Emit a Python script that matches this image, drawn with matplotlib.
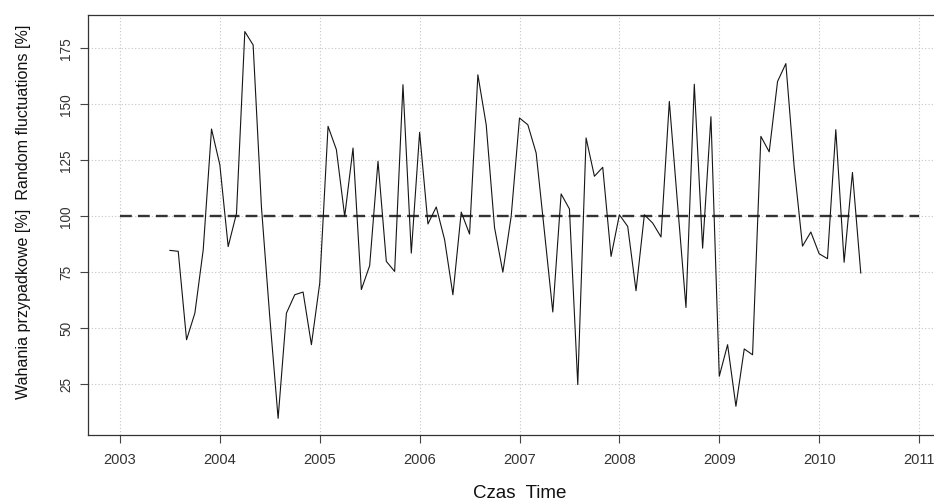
import numpy as np
import matplotlib
matplotlib.use("Agg")
import matplotlib.pyplot as plt
from matplotlib import font_manager

plt.rcParams['font.family'] = ['Liberation Sans', 'DejaVu Sans']

# monthly series, starting July 2003
start_year = 2003
start_month = 7
values = [84.8, 84.4, 44.9, 56.8, 85.0, 139.0, 123.0, 86.5, 101.3, 182.5,
          176.5, 104.0, 55.0, 9.8, 56.8, 65.0, 66.2, 42.7, 70.2, 140.2,
          129.8, 100.0, 130.5, 67.3, 78.0, 124.6, 79.9, 75.4, 158.8, 83.6,
          137.5, 96.6, 104.2, 89.6, 65.0, 101.9, 92.1, 163.2, 140.9, 95.0,
          75.1, 100.0, 143.9, 140.9, 128.3, 93.0, 57.3, 110.0, 103.3, 24.9,
          135.0, 117.9, 121.9, 82.1, 100.7, 95.5, 66.8, 100.7, 97.0, 90.8,
          151.3, 105.0, 59.3, 159.0, 85.8, 144.5, 28.6, 42.7, 15.2, 40.8,
          38.2, 135.7, 128.8, 160.2, 168.2, 122.0, 86.7, 93.0, 83.3, 81.1,
          138.7, 79.5, 119.6, 74.7]
ref_level = 100
ref_span = [2003, 2011]
x_ticks = [2003, 2004, 2005, 2006, 2007, 2008, 2009, 2010, 2011]
y_ticks = [25, 50, 75, 100, 125, 150, 175]
x_label = "Czas  Time"
y_label = "Wahania przypadkowe [%]  Random fluctuations [%]"

t = start_year + (start_month - 1) / 12 + np.arange(len(values)) / 12

names = {f.name for f in font_manager.fontManager.ttflist}
if 'Liberation Sans Narrow' in names:
    ylab_family, ylab_size = ['Liberation Sans Narrow', 'DejaVu Sans'], 14
    ytick_family, ytick_size = ['Liberation Sans Narrow', 'DejaVu Sans'], 12
else:
    ylab_family, ylab_size = ['Liberation Sans', 'DejaVu Sans'], 11.6
    ytick_family, ytick_size = ['Liberation Sans', 'DejaVu Sans'], 9.8

W, H = 934, 504
fig = plt.figure(figsize=(W / 100, H / 100), dpi=100)
left, right, top, bottom = 88, 951, 15, 434.5
ax = fig.add_axes([left / W, (H - bottom) / H, (right - left) / W, (bottom - top) / H])

ax.set_xlim(2002.68, 2011.32)
ax.set_ylim(2.6, 189.9)
ax.set_xticks(x_ticks)
ax.set_yticks(y_ticks)
ax.grid(True, color='#c4c4c4', linestyle=(0, (1, 2)), linewidth=0.8)
ax.set_axisbelow(True)

ax.plot(ref_span, [ref_level, ref_level], color='#333333', linewidth=1.7,
        linestyle=(0, (5, 2.6)))
ax.plot(t, values, color='#151515', linewidth=0.8)

for s in ['top', 'bottom', 'left']:
    ax.spines[s].set_color('#333333')
    ax.spines[s].set_linewidth(0.9)
ax.spines['right'].set_visible(False)

ax.tick_params(axis='both', direction='out', length=5.5, width=0.8, color='#444444',
               labelcolor='#333333', labelsize=10.5)
ax.tick_params(axis='x', pad=8)
ax.tick_params(axis='y', pad=5)
for lab in ax.get_yticklabels():
    lab.set_rotation(90)
    lab.set_va('center')
    lab.set_family(ytick_family)
    lab.set_fontsize(ytick_size)

ax.set_xlabel(x_label, fontsize=13.5, color='#111111')
ax.set_ylabel(y_label, fontsize=ylab_size, color='#111111', family=ylab_family)
ax.xaxis.label.set_va('center')
ax.yaxis.label.set_va('center')
ax.xaxis.set_label_coords((520 - left) / (right - left), (bottom - 494) / (bottom - top))
ax.yaxis.set_label_coords((24 - left) / (right - left), (bottom - 211.7) / (bottom - top))

fig.savefig("out.png", dpi=100)
